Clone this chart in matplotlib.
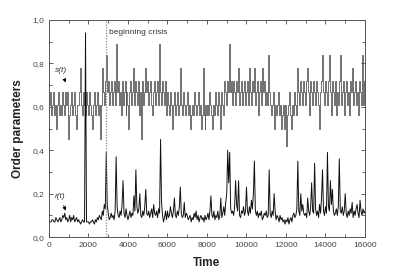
import numpy as np
import matplotlib
matplotlib.use("Agg")
import matplotlib.pyplot as plt
from matplotlib.ticker import MultipleLocator, FuncFormatter

plt.rcParams['font.family'] = ['Liberation Sans', 'DejaVu Sans']

# sampling grid (every 50 time units)
time = np.arange(0, 16001, 50)

# s(t) order parameter, one row per 1000 time units
s_vals = [
    0.56, 0.61, 0.67, 0.56, 0.61, 0.67, 0.56, 0.61, 0.50, 0.61, 0.67, 0.56, 0.61, 0.56, 0.67, 0.61, 0.56, 0.67, 0.61, 0.67,
    0.45, 0.56, 0.61, 0.67, 0.56, 0.61, 0.67, 0.56, 0.50, 0.61, 0.61, 0.67, 0.78, 0.61, 0.56, 0.67, 0.61, 0.56, 0.67, 0.61,
    0.56, 0.67, 0.61, 0.56, 0.50, 0.61, 0.67, 0.56, 0.61, 0.67, 0.56, 0.61, 0.45, 0.61, 0.78, 0.67, 0.61, 0.72, 0.84, 0.67,
    0.72, 0.61, 0.67, 0.72, 0.61, 0.67, 0.72, 0.61, 0.89, 0.67, 0.72, 0.61, 0.67, 0.56, 0.72, 0.61, 0.67, 0.72, 0.56, 0.67,
    0.61, 0.50, 0.67, 0.72, 0.61, 0.67, 0.78, 0.61, 0.72, 0.67, 0.61, 0.72, 0.56, 0.67, 0.45, 0.72, 0.61, 0.67, 0.78, 0.67,
    0.72, 0.61, 0.67, 0.72, 0.61, 0.56, 0.67, 0.72, 0.61, 0.67, 0.72, 0.61, 0.89, 0.67, 0.61, 0.72, 0.67, 0.61, 0.72, 0.56,
    0.67, 0.61, 0.56, 0.67, 0.61, 0.50, 0.61, 0.67, 0.56, 0.61, 0.67, 0.56, 0.61, 0.78, 0.61, 0.56, 0.67, 0.61, 0.56, 0.61,
    0.67, 0.56, 0.61, 0.50, 0.56, 0.61, 0.56, 0.67, 0.61, 0.56, 0.61, 0.67, 0.56, 0.61, 0.50, 0.56, 0.78, 0.56, 0.50, 0.61,
    0.56, 0.61, 0.56, 0.67, 0.61, 0.56, 0.50, 0.61, 0.56, 0.67, 0.61, 0.56, 0.67, 0.61, 0.50, 0.67, 0.61, 0.56, 0.72, 0.67,
    0.61, 0.72, 0.67, 0.89, 0.67, 0.72, 0.61, 0.72, 0.67, 0.61, 0.72, 0.67, 0.78, 0.61, 0.67, 0.72, 0.61, 0.67, 0.72, 0.61,
    0.67, 0.72, 0.61, 0.78, 0.67, 0.61, 0.72, 0.67, 0.78, 0.61, 0.67, 0.72, 0.56, 0.67, 0.72, 0.61, 0.78, 0.67, 0.72, 0.61,
    0.67, 0.61, 0.84, 0.67, 0.61, 0.56, 0.61, 0.67, 0.50, 0.61, 0.56, 0.61, 0.67, 0.56, 0.61, 0.50, 0.56, 0.61, 0.56, 0.50,
    0.61, 0.42, 0.56, 0.61, 0.67, 0.56, 0.50, 0.61, 0.56, 0.67, 0.61, 0.56, 0.78, 0.67, 0.61, 0.72, 0.67, 0.61, 0.72, 0.67,
    0.61, 0.72, 0.78, 0.67, 0.56, 0.72, 0.67, 0.61, 0.72, 0.67, 0.61, 0.72, 0.67, 0.61, 0.50, 0.67, 0.72, 0.84, 0.67, 0.61,
    0.72, 0.67, 0.61, 0.72, 0.84, 0.67, 0.56, 0.72, 0.67, 0.61, 0.72, 0.56, 0.67, 0.61, 0.72, 0.84, 0.61, 0.67, 0.72, 0.56,
    0.67, 0.72, 0.61, 0.67, 0.56, 0.72, 0.67, 0.78, 0.61, 0.67, 0.72, 0.61, 0.67, 0.56, 0.72, 0.67, 0.61, 0.84, 0.67, 0.61,
    0.72,
]

# r(t) order parameter, one row per 1000 time units
r_vals = [
    0.06, 0.07, 0.07, 0.08, 0.08, 0.07, 0.07, 0.09, 0.08, 0.07, 0.08, 0.09, 0.07, 0.08, 0.10, 0.09, 0.11, 0.08, 0.09, 0.07,
    0.08, 0.10, 0.07, 0.09, 0.08, 0.10, 0.07, 0.08, 0.09, 0.07, 0.08, 0.07, 0.06, 0.07, 0.08, 0.07, 0.07, 0.94, 0.07, 0.07,
    0.07, 0.06, 0.07, 0.07, 0.08, 0.07, 0.06, 0.08, 0.07, 0.09, 0.08, 0.10, 0.09, 0.08, 0.12, 0.10, 0.15, 0.13, 0.39, 0.15,
    0.11, 0.08, 0.09, 0.11, 0.09, 0.10, 0.08, 0.12, 0.37, 0.14, 0.10, 0.09, 0.12, 0.10, 0.15, 0.26, 0.11, 0.09, 0.13, 0.10,
    0.08, 0.10, 0.12, 0.09, 0.11, 0.10, 0.19, 0.12, 0.31, 0.14, 0.11, 0.13, 0.20, 0.10, 0.09, 0.12, 0.10, 0.14, 0.22, 0.11,
    0.10, 0.12, 0.09, 0.11, 0.13, 0.09, 0.15, 0.11, 0.10, 0.12, 0.09, 0.13, 0.11, 0.45, 0.16, 0.10, 0.07, 0.09, 0.12, 0.08,
    0.12, 0.09, 0.10, 0.14, 0.11, 0.09, 0.12, 0.18, 0.10, 0.09, 0.12, 0.10, 0.14, 0.23, 0.11, 0.09, 0.10, 0.16, 0.09, 0.11,
    0.10, 0.08, 0.09, 0.10, 0.07, 0.09, 0.08, 0.11, 0.09, 0.12, 0.08, 0.10, 0.07, 0.09, 0.10, 0.08, 0.09, 0.07, 0.10, 0.08,
    0.09, 0.11, 0.08, 0.12, 0.19, 0.10, 0.09, 0.12, 0.08, 0.10, 0.09, 0.12, 0.08, 0.10, 0.18, 0.09, 0.11, 0.14, 0.10, 0.16,
    0.20, 0.40, 0.25, 0.39, 0.13, 0.11, 0.12, 0.10, 0.14, 0.26, 0.15, 0.12, 0.26, 0.10, 0.09, 0.12, 0.11, 0.14, 0.10, 0.12,
    0.23, 0.12, 0.10, 0.14, 0.11, 0.17, 0.13, 0.20, 0.35, 0.12, 0.10, 0.12, 0.09, 0.11, 0.10, 0.12, 0.08, 0.09, 0.11, 0.10,
    0.12, 0.09, 0.10, 0.31, 0.11, 0.09, 0.12, 0.10, 0.20, 0.12, 0.08, 0.10, 0.09, 0.07, 0.10, 0.08, 0.09, 0.07, 0.08, 0.06,
    0.08, 0.07, 0.09, 0.06, 0.08, 0.09, 0.07, 0.10, 0.11, 0.09, 0.10, 0.13, 0.35, 0.12, 0.10, 0.20, 0.12, 0.15, 0.11, 0.10,
    0.11, 0.09, 0.18, 0.12, 0.10, 0.14, 0.25, 0.12, 0.11, 0.34, 0.13, 0.10, 0.12, 0.09, 0.15, 0.11, 0.18, 0.31, 0.12, 0.10,
    0.14, 0.11, 0.39, 0.14, 0.12, 0.26, 0.15, 0.22, 0.12, 0.10, 0.11, 0.13, 0.10, 0.14, 0.36, 0.12, 0.11, 0.14, 0.10, 0.12,
    0.20, 0.11, 0.09, 0.12, 0.10, 0.13, 0.11, 0.16, 0.09, 0.12, 0.10, 0.13, 0.15, 0.11, 0.09, 0.17, 0.12, 0.10, 0.13, 0.11,
    0.12,
]

crisis_time = 2900

fig = plt.figure(figsize=(3.95, 2.77), dpi=100)
ax = fig.add_axes([0.124, 0.144, 0.800, 0.784])

ax.plot(time, s_vals, color="#5a5a5a", lw=0.6, drawstyle="steps-mid")
ax.plot(time, r_vals, color="#111111", lw=0.7)
ax.axvline(crisis_time, color="#888888", lw=0.9, ls=(0, (1, 1.2)))

ax.set_xlim(0, 16000)
ax.set_ylim(0, 1.0)
ax.xaxis.set_major_locator(MultipleLocator(2000))
ax.xaxis.set_minor_locator(MultipleLocator(1000))
ax.yaxis.set_major_locator(MultipleLocator(0.2))
ax.yaxis.set_minor_locator(MultipleLocator(0.1))
ax.yaxis.set_major_formatter(FuncFormatter(lambda v, p: f"{v:.1f}".replace(".", ",")))
ax.tick_params(which="both", direction="in", top=True, right=True,
               labelsize=6, colors="#444444", width=0.6)
ax.tick_params(which="major", length=3)
ax.tick_params(which="minor", length=2)
for sp in ax.spines.values():
    sp.set_linewidth(0.7)
    sp.set_color("#555555")

ax.set_xlabel("Time", fontsize=8.5, fontweight="bold", labelpad=6, color="#222222")
ax.set_ylabel("Order parameters", fontsize=8.5, fontweight="bold", labelpad=6, color="#222222")

ax.text(3050, 0.935, "beginning crisis", fontsize=6, color="#333333")
ax.annotate("s(t)", xy=(900, 0.70), xytext=(300, 0.76), fontsize=6,
            fontstyle="italic", color="#333333",
            arrowprops=dict(arrowstyle="-|>", color="black", lw=0.6,
                            mutation_scale=5))
ax.annotate("r(t)", xy=(900, 0.11), xytext=(300, 0.18), fontsize=6,
            fontstyle="italic", color="#333333",
            arrowprops=dict(arrowstyle="-|>", color="black", lw=0.6,
                            mutation_scale=5))

fig.savefig("out.png", dpi=100)
